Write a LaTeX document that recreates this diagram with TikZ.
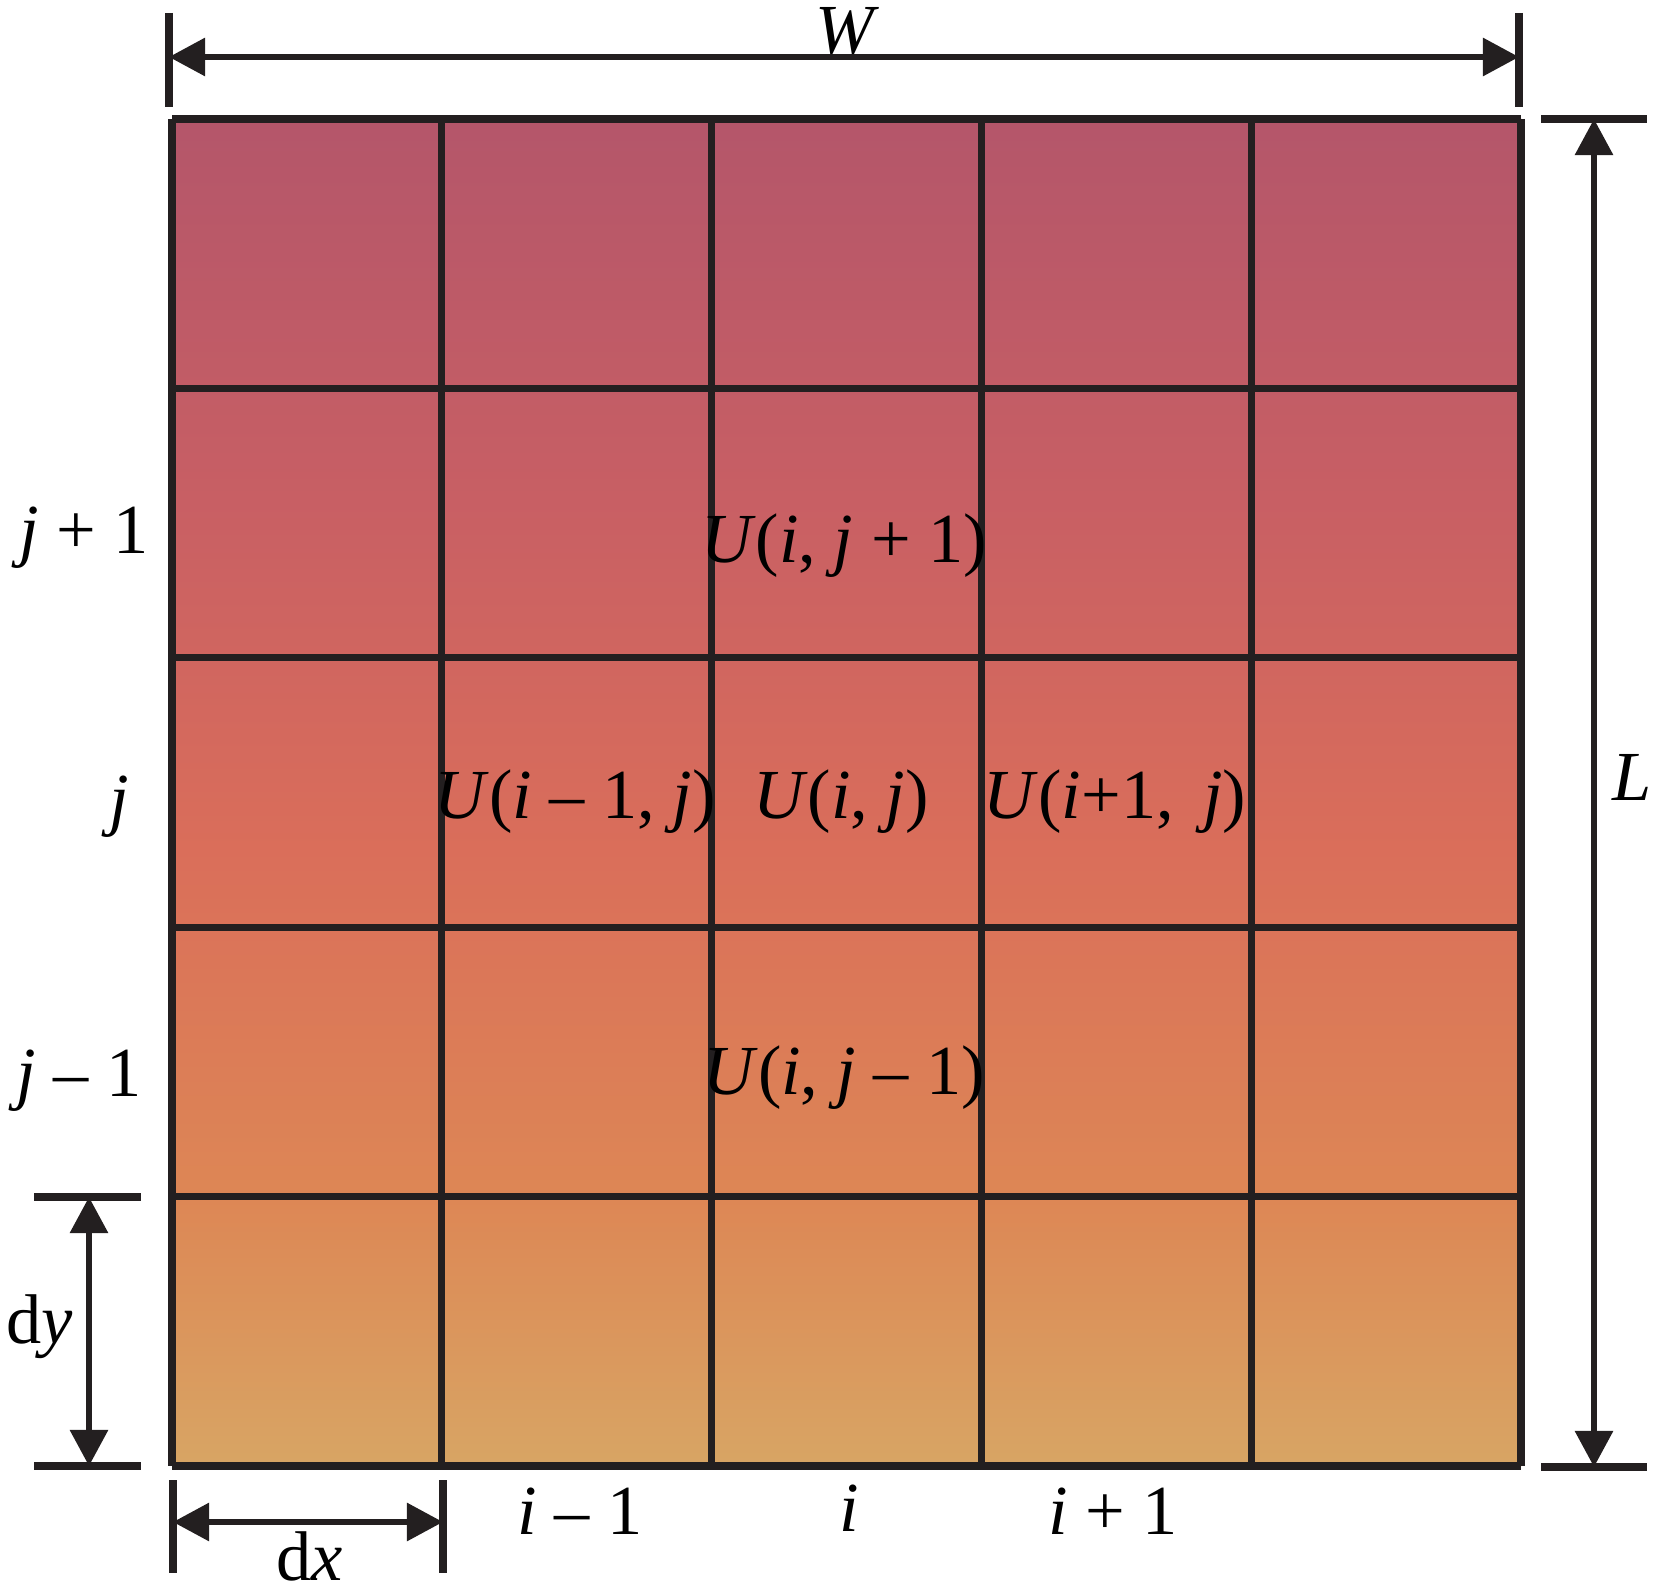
\documentclass[tikz,border=0pt]{standalone}
\usepackage{fontspec}
\setmainfont{Liberation Serif}
\usetikzlibrary{arrows.meta,positioning}

\definecolor{bandA}{HTML}{B4566A}
\definecolor{bandB}{HTML}{C85F64}
\definecolor{bandC}{HTML}{DA6E5A}
\definecolor{bandD}{HTML}{DD8755}
\definecolor{bandE}{HTML}{D8A564}
\definecolor{inkline}{HTML}{231F20}

\begin{document}
\begin{tikzpicture}[x=0.01cm,y=-0.01cm,
    gridline/.style={inkline,line width=2pt},
    tickline/.style={inkline,line width=2pt},
    dimline/.style={inkline,line width=1.7pt,{Triangle[length=0.36cm,width=0.37cm]}-{Triangle[length=0.36cm,width=0.37cm]}},
    lbl/.style={font=\fontsize{20}{24}\selectfont,inner sep=0pt}]
\useasboundingbox (0,0) rectangle (1654,1585);

% colour bands
\shade[top color=bandA,bottom color=bandB] (172,119) rectangle (1521,500);
\shade[top color=bandB,bottom color=bandC] (172,500) rectangle (1521,850);
\shade[top color=bandC,bottom color=bandD] (172,850) rectangle (1521,1200);
\shade[top color=bandD,bottom color=bandE] (172,1200) rectangle (1521,1466);

% grid
\foreach \n in {0,...,5} {
  \draw[gridline] (172+269.8*\n,119) -- (172+269.8*\n,1466);
  \draw[gridline] (172,119+269.4*\n) -- (1521,119+269.4*\n);
}

% W
\coordinate (wl) at (169,57);
\coordinate (wr) at (1519,57);
\draw[tickline] (169,13) -- (169,107);
\draw[tickline] (1519,13) -- (1519,107);
\draw[dimline] (wl) -- (wr);
\node[lbl] (W) at (847,31) {\textit{W}};

% L
\coordinate (lt) at (1594,119);
\coordinate (lb) at (1594,1467);
\draw[tickline] (1541,119) -- (1647,119);
\draw[tickline] (1541,1467) -- (1647,1467);
\draw[dimline] (lt) -- (lb);
\node[lbl] (L) at (1632,777) {\textit{L}};

% dy
\coordinate (dyt) at (89,1197);
\coordinate (dyb) at (89,1466);
\draw[tickline] (34,1197) -- (141,1197);
\draw[tickline] (34,1466) -- (141,1466);
\draw[dimline] (dyt) -- (dyb);
\node[lbl] (dy) at (40,1327) {d\textit{y}};

% dx
\coordinate (dxl) at (173,1522);
\coordinate (dxr) at (443,1522);
\draw[tickline] (173,1480) -- (173,1573);
\draw[tickline] (443,1480) -- (443,1573);
\draw[dimline] (dxl) -- (dxr);
\node[lbl,anchor=base] (dx) at (310,1580) {d\textit{x}};

% row and column indices
\node[lbl] (jp) at (84,538) {\textit{j} + 1};
\node[lbl] (j0) at (119,807) {\textit{j}};
\node[lbl] (jm) at (79,1081) {\textit{j} – 1};
\node[lbl] (im) at (580,1511) {\textit{i} – 1};
\node[lbl] (i0) at (849,1508) {\textit{i}};
\node[lbl] (ip) at (1113,1511) {\textit{i} + 1};

% stencil values
\node[lbl] (Uup) at (844,546) {\textit{U}(\textit{i}, \textit{j} + 1)};
\node[lbl] (Uleft) at (575,802) {\textit{U}(\textit{i} – 1, \textit{j})};
\node[lbl] (Uc) at (841,802) {\textit{U}(\textit{i}, \textit{j})};
\node[lbl] (Uright) at (1115,802) {\textit{U}(\textit{i}+1,\, \textit{j})};
\node[lbl] (Udown) at (844,1078) {\textit{U}(\textit{i}, \textit{j} – 1)};
\end{tikzpicture}
\end{document}
